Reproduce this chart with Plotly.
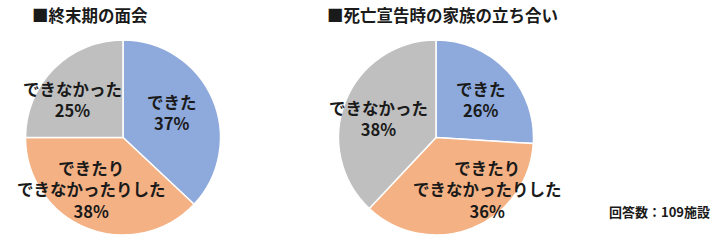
import plotly.graph_objects as go

W, H = 720, 246
categories = ["できた", "できたり<br>できなかったりした", "できなかった"]
values_left = [37, 38, 25]
values_right = [26, 36, 38]
titles = ["■終末期の面会", "■死亡宣告時の家族の立ち合い"]
note = "回答数：109施設"
colors = ["#8EA9DB", "#F4B183", "#BFBFBF"]
FONT = "Noto Sans CJK JP"

def px(x): return x / W
def py(y): return 1 - y / H

fig = go.Figure()
for vals, cx in [(values_left, 123), (values_right, 436)]:
    r = 97.5
    cy = 137.5
    fig.add_trace(go.Pie(
        labels=categories, values=vals, sort=False, direction="clockwise",
        rotation=0, marker=dict(colors=colors, line=dict(color="white", width=1.5)),
        textinfo="none", hoverinfo="label+percent", showlegend=False,
        domain=dict(x=[px(cx - r), px(cx + r)], y=[py(cy + r), py(cy - r)]),
    ))

label_pos_left = [(172, 112), (91, 189), (72, 99)]
label_pos_right = [(481, 99), (487, 189), (378, 118)]
anns = []
for vals, pos in [(values_left, label_pos_left), (values_right, label_pos_right)]:
    for cat, v, (x, y) in zip(categories, vals, pos):
        anns.append(dict(text=f"<b>{cat}<br>{v}%</b>", x=px(x), y=py(y), xref="paper", yref="paper",
                         xanchor="center", yanchor="middle", showarrow=False, align="center",
                         font=dict(family=FONT, size=16.5, color="#1a1a1a")))
for t, x in zip(titles, [30, 325]):
    anns.append(dict(text=f"<b>{t}</b>", x=px(x), y=py(15), xref="paper", yref="paper",
                     xanchor="left", yanchor="middle", showarrow=False,
                     font=dict(family=FONT, size=16.5, color="#1a1a1a")))
anns.append(dict(text=f"<b>{note}</b>", x=px(712), y=py(211), xref="paper", yref="paper",
                 xanchor="right", yanchor="middle", showarrow=False,
                 font=dict(family=FONT, size=13, color="#1a1a1a")))

fig.update_layout(width=W, height=H, margin=dict(l=0, r=0, t=0, b=0),
                  paper_bgcolor="white", plot_bgcolor="white", annotations=anns)
fig.write_html("out.html")
